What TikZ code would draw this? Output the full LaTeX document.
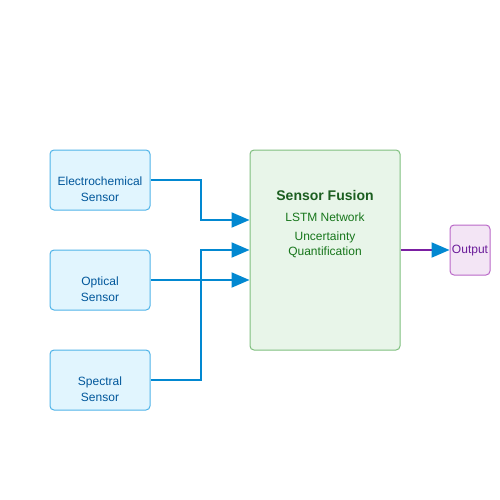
\documentclass[tikz,border=0pt]{standalone}
\usepackage{fontspec}
\setmainfont{Liberation Sans}
\usetikzlibrary{arrows.meta,calc}
\definecolor{sfill}{HTML}{E1F5FE}
\definecolor{sdraw}{HTML}{4FB3E8}
\definecolor{stext}{HTML}{01579B}
\definecolor{ffill}{HTML}{E8F5E9}
\definecolor{fdraw}{HTML}{7FBF7F}
\definecolor{ftext}{HTML}{1B5E20}
\definecolor{ofill}{HTML}{F3E5F5}
\definecolor{odraw}{HTML}{BA68C8}
\definecolor{otext}{HTML}{6A1B9A}
\definecolor{lblue}{HTML}{0288D1}
\definecolor{lpurp}{HTML}{7B1FA2}
\tikzset{
  sensorbox/.style={draw=sdraw,fill=sfill,line width=1pt,rounded corners=4pt,minimum width=100pt,minimum height=60pt,inner sep=0pt},
  sensortxt/.style={text=stext,font=\fontsize{12}{15}\selectfont,align=center,inner sep=0pt},
  fusionbox/.style={draw=fdraw,fill=ffill,line width=1pt,rounded corners=4pt,minimum width=150pt,minimum height=200pt,inner sep=0pt},
  outbox/.style={draw=odraw,fill=ofill,line width=1pt,rounded corners=4pt,minimum width=40pt,minimum height=50pt,inner sep=0pt},
  conn/.style={draw=lblue,line width=2pt,-{Triangle[length=18pt,width=15pt,fill=lblue,color=lblue]}},
  outconn/.style={draw=lpurp,line width=2pt,-{Triangle[length=18pt,width=15pt,fill=lblue,color=lblue]}},
}
\begin{document}
\begin{tikzpicture}[x=1pt,y=-1pt]
\useasboundingbox (0,0) rectangle (500,500);
\node[sensorbox] (ec) at (100,180) {};
\node[sensortxt] (ect) at (100,189.5) {Electrochemical\\[1pt]Sensor};
\node[sensorbox] (op) at (100,280) {};
\node[sensortxt] (opt) at (100,289.5) {Optical\\[1pt]Sensor};
\node[sensorbox] (sp) at (100,380) {};
\node[sensortxt] (spt) at (100,389.5) {Spectral\\[1pt]Sensor};
\node[fusionbox] (fu) at (325,250) {};
\node[text=ftext,font=\fontsize{14}{16}\bfseries,inner sep=0pt] (fut) at (325,195.5) {Sensor Fusion};
\node[text=ftext!85!green,font=\fontsize{12}{15}\selectfont,inner sep=0pt] (lstm) at (325,217) {LSTM Network};
\node[text=ftext!85!green,font=\fontsize{12}{15}\selectfont,align=center,inner sep=0pt] (uq) at (325,245) {Uncertainty\\Quantification};
\node[outbox] (out) at (470,250) {};
\node[text=otext,font=\fontsize{12}{15}\selectfont,inner sep=0pt] (outt) at (470,251) {Output};
\coordinate (t1) at ($(fu.west)+(0,-30)$);
\coordinate (t2) at (fu.west);
\coordinate (t3) at ($(fu.west)+(0,30)$);
\draw[conn] (ec.east) -- ++(50,0) |- (t1);
\draw[conn] (op.east) -- (t3);
\draw[conn] (sp.east) -- ++(50,0) |- (t2);
\draw[outconn] (fu.east) -- (out.west);
\end{tikzpicture}
\end{document}
